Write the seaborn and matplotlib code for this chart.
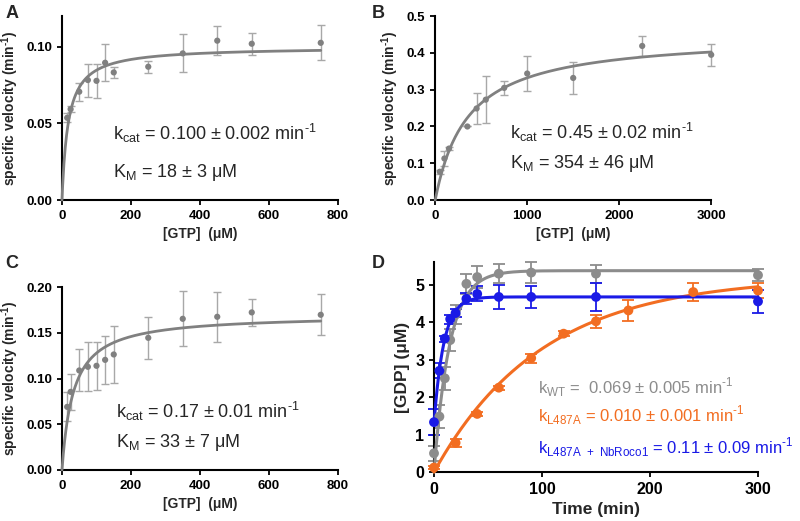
import numpy as np
import pandas as pd
import matplotlib
matplotlib.use("Agg")
import matplotlib.pyplot as plt
import seaborn as sns

# ---------------- data ----------------
# Panel A
a_gtp = [15, 25, 50, 75, 100, 125, 150, 250, 350, 450, 550, 750]
a_vel = [0.0537, 0.0593, 0.0707, 0.0783, 0.0778, 0.0896, 0.0833, 0.087, 0.0957, 0.104, 0.102, 0.1026]
a_err = [0.003, 0.002, 0.006, 0.0108, 0.011, 0.012, 0.0035, 0.004, 0.0124, 0.0096, 0.0073, 0.0115]
a_kcat, a_km = 0.100, 18

# Panel B
b_gtp = [50, 100, 150, 350, 450, 550, 750, 1000, 1500, 2250, 3000]
b_vel = [0.077, 0.113, 0.140, 0.200, 0.249, 0.273, 0.305, 0.344, 0.332, 0.419, 0.395]
b_err = [0.005, 0.02, 0.004, 0.0, 0.041, 0.064, 0.02, 0.048, 0.044, 0.028, 0.03]
b_kcat, b_km = 0.45, 354

# Panel C
c_gtp = [15, 25, 50, 75, 100, 125, 150, 250, 350, 450, 550, 750]
c_vel = [0.069, 0.0854, 0.1088, 0.1128, 0.1139, 0.1204, 0.1263, 0.1445, 0.1653, 0.1675, 0.1723, 0.1697]
c_err = [0.016, 0.0195, 0.023, 0.027, 0.026, 0.026, 0.031, 0.023, 0.030, 0.0275, 0.015, 0.0225]
c_kcat, c_km = 0.17, 33

# Panel D
d_time = [0, 5, 10, 15, 20, 30, 40, 60, 90, 150, 300]
d_wt = [0.5, 1.48, 2.5, 3.52, 4.2, 5.02, 5.2, 5.29, 5.32, 5.29, 5.25]
d_wt_err = [0.2, 0.3, 0.3, 0.3, 0.25, 0.26, 0.29, 0.26, 0.27, 0.24, 0.16]
d_nb = [1.33, 2.7, 3.56, 4.08, 4.24, 4.62, 4.75, 4.67, 4.67, 4.67, 4.55]
d_nb_err = [0.35, 0.2, 0.08, 0.12, 0.1, 0.15, 0.2, 0.31, 0.3, 0.37, 0.31]
d_l_time = [0, 20, 40, 60, 90, 120, 150, 180, 240, 300]
d_l = [0.12, 0.78, 1.55, 2.25, 3.04, 3.69, 4.02, 4.31, 4.80, 4.84]
d_l_err = [0.05, 0.1, 0.05, 0.05, 0.12, 0.06, 0.18, 0.28, 0.25, 0.2]
# one-phase association fits: (Y0, plateau, k)
fit_wt = (0.0, 5.37, 0.069)
fit_l = (0.0, 5.2, 0.010)
fit_nb = (1.3, 4.67, 0.11)

GREY = "#808080"
GREY_ERR = "#a8a8a8"
D_GREY = "#8c8c8c"
ORANGE = "#f26d21"
BLUE = "#1a1ae6"

HY = "\u2010"  # plain hyphen for superscript -1
SUP = "$^\\mathregular{" + HY + "1}$"

# ---------------- style ----------------
sns.set_style("ticks")
plt.rcParams["font.family"] = ["Liberation Sans", "DejaVu Sans"]
plt.rcParams["axes.linewidth"] = 1.5
plt.rcParams["xtick.major.width"] = 1.3
plt.rcParams["ytick.major.width"] = 1.3
plt.rcParams["xtick.major.size"] = 3.5
plt.rcParams["ytick.major.size"] = 3.5
plt.rcParams["xtick.color"] = "black"
plt.rcParams["ytick.color"] = "black"
plt.rcParams["axes.edgecolor"] = "black"

fig = plt.figure(figsize=(8, 5.21), dpi=100)

axA = fig.add_axes([0.0775, 0.616, 0.345, 0.353])
axB = fig.add_axes([0.544, 0.616, 0.345, 0.353])
axC = fig.add_axes([0.0775, 0.098, 0.345, 0.351])
axD = fig.add_axes([0.5425, 0.094, 0.405, 0.403])

TICK_FS = 9.5
LABEL_FS = 10
ANN_FS = 13


def mm_panel(ax, x, y, err, kcat, km, xmax, ylim, yticks, xticks, yfmt, txt_pos):
    xs = np.linspace(0, max(x), 400)
    curve = pd.DataFrame({"x": xs, "y": kcat * xs / (km + xs)})
    ax.errorbar(x, y, yerr=err, fmt="none", ecolor=GREY_ERR, elinewidth=1.0,
                capsize=2.8, capthick=1.0, zorder=2, clip_on=False)
    sns.lineplot(data=curve, x="x", y="y", ax=ax, color=GREY, linewidth=2.0,
                 zorder=3, clip_on=False)
    pts = pd.DataFrame({"x": x, "y": y})
    sns.scatterplot(data=pts, x="x", y="y", ax=ax, color=GREY, s=20,
                    edgecolor="none", zorder=4, clip_on=False)
    ax.set_xlim(0, xmax)
    ax.set_ylim(*ylim)
    ax.set_xticks(xticks)
    ax.set_yticks(yticks)
    ax.set_yticklabels([yfmt.format(v) for v in yticks])
    for lab in ax.get_xticklabels() + ax.get_yticklabels():
        lab.set_fontweight("bold")
        lab.set_fontsize(TICK_FS)
    ax.set_xlabel("[GTP]  (μM)", fontsize=LABEL_FS, fontweight="bold", labelpad=4)
    ax.set_ylabel("specific velocity (min" + SUP + ")", fontsize=LABEL_FS,
                  fontweight="bold", labelpad=4)
    sns.despine(ax=ax)
    (tx, ty1, ty2, t1, t2) = txt_pos
    ax.text(tx, ty1, t1, transform=ax.transAxes, fontsize=ANN_FS, va="center", ha="left")
    ax.text(tx, ty2, t2, transform=ax.transAxes, fontsize=ANN_FS, va="center", ha="left")


mm_panel(axA, a_gtp, a_vel, a_err, a_kcat, a_km, 800, (0, 0.12), [0, 0.05, 0.10],
         [0, 200, 400, 600, 800], "{:.2f}",
         (0.185, 0.364, 0.152,
          "k$_\\mathregular{cat}$ = 0.100 ± 0.002 min" + SUP,
          "K$_\\mathregular{M}$ = 18 ± 3 μM"))
mm_panel(axB, b_gtp, b_vel, b_err, b_kcat, b_km, 3000, (0, 0.5),
         [0, 0.1, 0.2, 0.3, 0.4, 0.5], [0, 1000, 2000, 3000], "{:.1f}",
         (0.272, 0.37, 0.20,
          "k$_\\mathregular{cat}$ = 0.45 ± 0.02 min" + SUP,
          "K$_\\mathregular{M}$ = 354 ± 46 μM"))
mm_panel(axC, c_gtp, c_vel, c_err, c_kcat, c_km, 800, (0, 0.20),
         [0, 0.05, 0.10, 0.15, 0.20], [0, 200, 400, 600, 800], "{:.2f}",
         (0.196, 0.318, 0.149,
          "k$_\\mathregular{cat}$ = 0.17 ± 0.01 min" + SUP,
          "K$_\\mathregular{M}$ = 33 ± 7 μM"))

# Panel D
ts = np.linspace(0, 300, 600)
for (tt, yy, ee, fit, col) in [
    (d_time, d_wt, d_wt_err, fit_wt, D_GREY),
    (d_l_time, d_l, d_l_err, fit_l, ORANGE),
    (d_time, d_nb, d_nb_err, fit_nb, BLUE),
]:
    y0, plateau, k = fit
    curve = pd.DataFrame({"t": ts, "y": y0 + (plateau - y0) * (1 - np.exp(-k * ts))})
    axD.errorbar(tt, yy, yerr=ee, fmt="none", ecolor=col, elinewidth=1.3,
                 capsize=4, capthick=1.3, zorder=2, clip_on=False)
    sns.lineplot(data=curve, x="t", y="y", ax=axD, color=col, linewidth=2.2,
                 zorder=3, clip_on=False)
    sns.scatterplot(data=pd.DataFrame({"t": tt, "y": yy}), x="t", y="y", ax=axD,
                    color=col, s=50, edgecolor="none", zorder=4, clip_on=False)

axD.set_xlim(0, 300)
axD.set_ylim(0, 5.6)
axD.set_xticks([0, 100, 200, 300])
axD.set_yticks([0, 1, 2, 3, 4, 5])
for lab in axD.get_xticklabels() + axD.get_yticklabels():
    lab.set_fontweight("bold")
    lab.set_fontsize(11.5)
axD.set_xlabel("Time (min)", fontsize=12.5, fontweight="bold", labelpad=4)
axD.set_ylabel("[GDP] (μM)", fontsize=12.5, fontweight="bold", labelpad=4)
sns.despine(ax=axD)
axD.text(0.321, 0.405, "k$_\\mathregular{WT}$ =  0.069 ± 0.005 min" + SUP,
         color=D_GREY, transform=axD.transAxes, fontsize=12, va="center", ha="left")
axD.text(0.321, 0.271, "k$_\\mathregular{L487A}$ = 0.010 ± 0.001 min" + SUP,
         color=ORANGE, transform=axD.transAxes, fontsize=12, va="center", ha="left")
axD.text(0.321, 0.119,
         "k$_\\mathregular{L487A\\ +\\ NbRoco1}$ = 0.11 ± 0.09 min" + SUP,
         color=BLUE, transform=axD.transAxes, fontsize=12, va="center", ha="left")

# panel letters
for letter, (px, py) in {"A": (12, 13), "B": (378, 13), "C": (12, 264), "D": (378, 264)}.items():
    fig.text(px / 800, 1 - py / 521, letter, fontsize=13, fontweight="bold",
             ha="center", va="center")

fig.savefig("out.png", dpi=100)
